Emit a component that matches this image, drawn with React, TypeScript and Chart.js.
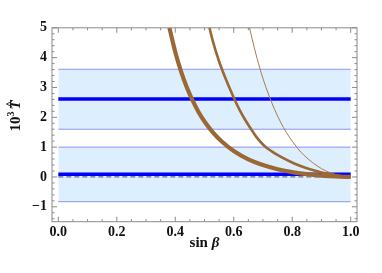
import React, { useEffect, useRef } from "react";
import { Chart, registerables } from "chart.js";

Chart.register(...registerables);

// axis ticks
const xMajorTicks = [0, 0.2, 0.4, 0.6, 0.8, 1.0];
const yMajorTicks = [-1, 0, 1, 2, 3, 4, 5];
const xMinorTicks = [0.05, 0.1, 0.15, 0.25, 0.3, 0.35, 0.45, 0.5, 0.55, 0.65, 0.7, 0.75, 0.85, 0.9, 0.95];
const yMinorTicks = [-1.4, -1.2, -0.8, -0.6, -0.4, -0.2, 0.2, 0.4, 0.6, 0.8, 1.2, 1.4, 1.6, 1.8, 2.2, 2.4, 2.6, 2.8, 3.2, 3.4, 3.6, 3.8, 4.2, 4.4, 4.6, 4.8];

// horizontal bands (measured values with uncertainty)
const bandS = [0, 1];
const upperHigh = [3.61, 3.61];
const upperCentral = [2.61, 2.61];
const upperLow = [1.6, 1.6];
const lowerHigh = [1.0, 1.0];
const lowerCentral = [0.09, 0.09];
const lowerLow = [-0.83, -0.83];
const zeroLine = [0, 0];

// brown curves
const thickS = [0.38, 0.4, 0.42, 0.44, 0.46, 0.48, 0.5, 0.53, 0.56, 0.6, 0.65, 0.7, 0.75, 0.8, 0.85, 0.9, 0.95, 1.0];
const thickT = [5.0, 4.19, 3.53, 2.99, 2.55, 2.17, 1.86, 1.48, 1.18, 0.87, 0.59, 0.4, 0.26, 0.16, 0.094, 0.046, 0.015, 0.0];

const mediumS = [0.517, 0.53, 0.55, 0.57, 0.596, 0.62, 0.64, 0.657, 0.68, 0.705, 0.73, 0.76, 0.805, 0.845, 0.88, 0.92, 0.96, 1.0];
const mediumT = [5.0, 4.5, 3.87, 3.35, 2.75, 2.25, 1.9, 1.64, 1.31, 1.04, 0.86, 0.68, 0.46, 0.31, 0.21, 0.11, 0.042, 0.0];

const thinS = [0.654, 0.67, 0.69, 0.71, 0.73, 0.75, 0.77, 0.79, 0.81, 0.83, 0.85, 0.87, 0.9, 0.93, 0.96, 1.0];
const thinT = [5.0, 4.34, 3.62, 3.01, 2.49, 2.04, 1.66, 1.34, 1.07, 0.83, 0.64, 0.48, 0.28, 0.14, 0.053, 0.0];

const X_MIN = -0.0216;
const X_MAX = 1.0216;
const Y_MIN = -1.5;
const Y_MAX = 5;

const SERIF = "'Liberation Serif', 'Times New Roman', serif";
const BROWN = "#9b6834";
const BLUE = "#0000ff";
const BAND_FILL = "#ddeeff";
const BAND_EDGE = "#8c96ee";
const FRAME = "#8a8a8a";

const pts = (xs: number[], ys: number[]) => xs.map((x, i) => ({ x, y: ys[i] }));

const framePlugin = {
  id: "framePlugin",
  afterDatasetsDraw(chart: any) {
    const { ctx, chartArea, scales } = chart;
    const xs = scales.x;
    const ys = scales.y;
    const { left, right, top, bottom } = chartArea;
    ctx.save();
    ctx.strokeStyle = FRAME;
    ctx.lineWidth = 1;
    ctx.strokeRect(left, top, right - left, bottom - top);
    const tick = (x1: number, y1: number, x2: number, y2: number) => {
      ctx.beginPath();
      ctx.moveTo(x1, y1);
      ctx.lineTo(x2, y2);
      ctx.stroke();
    };
    const majorLen = 5;
    const minorLen = 2.5;
    xMajorTicks.forEach((v) => {
      const p = xs.getPixelForValue(v);
      tick(p, bottom, p, bottom - majorLen);
      tick(p, top, p, top + majorLen);
    });
    xMinorTicks.forEach((v) => {
      const p = xs.getPixelForValue(v);
      tick(p, bottom, p, bottom - minorLen);
      tick(p, top, p, top + minorLen);
    });
    yMajorTicks.forEach((v) => {
      const p = ys.getPixelForValue(v);
      tick(left, p, left + majorLen, p);
      tick(right, p, right - majorLen, p);
    });
    yMinorTicks.forEach((v) => {
      const p = ys.getPixelForValue(v);
      tick(left, p, left + minorLen, p);
      tick(right, p, right - minorLen, p);
    });

    // x axis title: "sin β"
    ctx.fillStyle = "#111";
    ctx.textBaseline = "alphabetic";
    ctx.textAlign = "left";
    const f1 = `bold 15px ${SERIF}`;
    const f2 = `italic bold 15px ${SERIF}`;
    ctx.font = f1;
    const w1 = ctx.measureText("sin ").width;
    ctx.font = f2;
    const w2 = ctx.measureText("β").width;
    const cx = (left + right) / 2;
    const x0 = cx - (w1 + w2) / 2;
    ctx.font = f1;
    ctx.fillText("sin ", x0, 246.5);
    ctx.font = f2;
    ctx.fillText("β", x0 + w1, 246.5);

    // y axis title: "10³ T̂" rotated
    ctx.save();
    ctx.translate(20, 116);
    ctx.rotate(-Math.PI / 2);
    const g1 = `bold 15px ${SERIF}`;
    const g2 = `bold 10px ${SERIF}`;
    const g3 = `italic bold 15px ${SERIF}`;
    ctx.font = g1;
    const a1 = ctx.measureText("10").width;
    ctx.font = g2;
    const a2 = ctx.measureText("3").width;
    ctx.font = g3;
    const a3 = ctx.measureText("T").width;
    const total = a1 + a2 + 2 + a3;
    let px = -total / 2;
    ctx.font = g1;
    ctx.fillText("10", px, 0);
    px += a1;
    ctx.font = g2;
    ctx.fillText("3", px, -6);
    px += a2 + 2;
    ctx.font = g3;
    ctx.fillText("T", px, 0);
    ctx.font = `bold 13px ${SERIF}`;
    ctx.textAlign = "center";
    ctx.fillText("^", px + a3 / 2 + 1, -6.5);
    ctx.restore();

    ctx.restore();
  },
};

export default function App() {
  const ref = useRef<HTMLCanvasElement>(null);

  useEffect(() => {
    document.body.style.margin = "0";
    const canvas = ref.current;
    if (!canvas) return;

    const curve = (xs: number[], ys: number[], width: number, color: string) => ({
      data: pts(xs, ys),
      borderColor: color,
      borderWidth: width,
      pointRadius: 0,
      fill: false,
      cubicInterpolationMode: "monotone" as const,
      clip: 0,
      order: 1,
    });

    const chart = new Chart(canvas, {
      type: "line",
      data: {
        datasets: [
          curve(thickS, thickT, 4.2, BROWN),
          curve(mediumS, mediumT, 2.6, BROWN),
          curve(thinS, thinT, 1, "#a97a4a"),
          { data: pts(bandS, upperCentral), borderColor: BLUE, borderWidth: 3.5, pointRadius: 0, fill: false, order: 3 },
          { data: pts(bandS, lowerCentral), borderColor: BLUE, borderWidth: 3.5, pointRadius: 0, fill: false, order: 3 },
          { data: pts(bandS, zeroLine), borderColor: "#707080", borderWidth: 1.3, borderDash: [5, 3], pointRadius: 0, fill: false, order: 4 },
          { data: pts(bandS, upperHigh), borderColor: BAND_EDGE, borderWidth: 1, pointRadius: 0, fill: "+1", backgroundColor: BAND_FILL, order: 10 },
          { data: pts(bandS, upperLow), borderColor: BAND_EDGE, borderWidth: 1, pointRadius: 0, fill: false, order: 9 },
          { data: pts(bandS, lowerHigh), borderColor: BAND_EDGE, borderWidth: 1, pointRadius: 0, fill: "+1", backgroundColor: BAND_FILL, order: 10 },
          { data: pts(bandS, lowerLow), borderColor: BAND_EDGE, borderWidth: 1, pointRadius: 0, fill: false, order: 9 },
        ],
      },
      options: {
        responsive: false,
        animation: false,
        events: [],
        layout: { padding: { top: 27.8, right: 25, left: 0, bottom: 0 } },
        plugins: { legend: { display: false }, tooltip: { enabled: false }, title: { display: false } },
        scales: {
          x: {
            type: "linear",
            min: X_MIN,
            max: X_MAX,
            grid: { display: false, drawTicks: false },
            border: { display: false },
            afterBuildTicks: (scale: any) => {
              scale.ticks = xMajorTicks.map((v) => ({ value: v }));
            },
            afterFit: (scale: any) => {
              scale.height = 273 - 221.7;
            },
            ticks: {
              padding: 2,
              maxRotation: 0,
              autoSkip: false,
              color: "#111",
              font: { family: SERIF, weight: "bold", size: 14 },
              callback: (v: any) => Number(v).toFixed(1),
            },
          },
          y: {
            type: "linear",
            min: Y_MIN,
            max: Y_MAX,
            grid: { display: false, drawTicks: false },
            border: { display: false },
            afterBuildTicks: (scale: any) => {
              scale.ticks = yMajorTicks.map((v) => ({ value: v }));
            },
            afterFit: (scale: any) => {
              scale.width = 52;
            },
            ticks: {
              padding: 5,
              autoSkip: false,
              color: "#111",
              font: { family: SERIF, weight: "bold", size: 14 },
              callback: (v: any) => (Number(v) < 0 ? "\u2212" + Math.abs(Number(v)) : String(v)),
            },
          },
        },
      },
      plugins: [framePlugin],
    } as any);

    return () => chart.destroy();
  }, []);

  return (
    <div style={{ width: 382, height: 273 }}>
      <canvas ref={ref} width={382} height={273} style={{ display: "block", width: 382, height: 273 }} />
    </div>
  );
}
